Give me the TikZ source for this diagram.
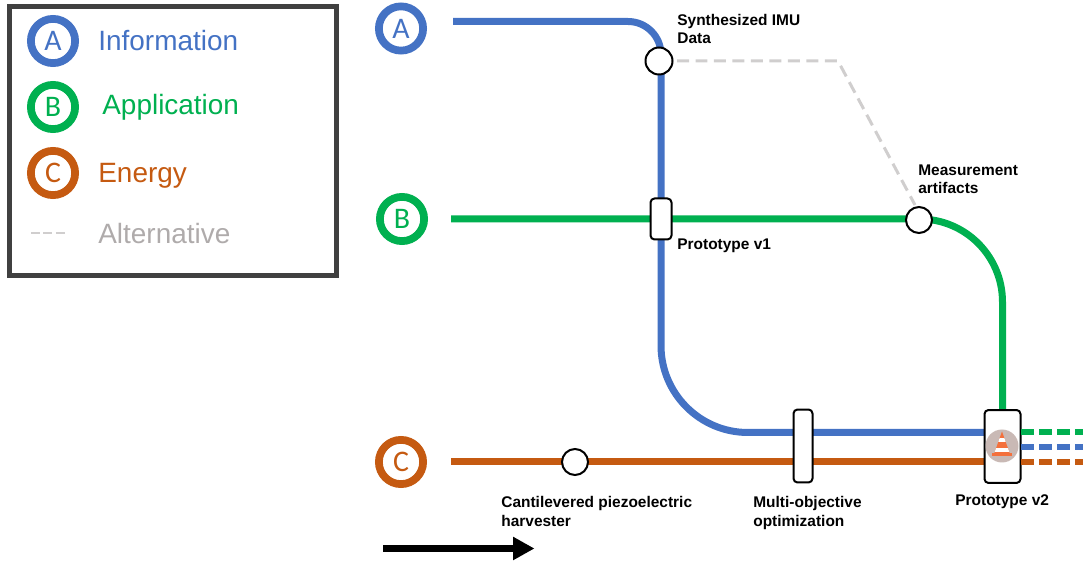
\documentclass[tikz,border=0pt]{standalone}
\usepackage{fontspec}
\usepackage{xcolor}
\usetikzlibrary{arrows.meta,backgrounds}
\setmainfont{Liberation Sans}
\newfontfamily\letterfont{Carlito}
\definecolor{infoblue}{HTML}{4472C4}
\definecolor{appgreen}{HTML}{00B050}
\definecolor{energybrown}{HTML}{C55A11}
\definecolor{altgray}{HTML}{D0CECE}
\definecolor{alttext}{HTML}{AFABAB}
\definecolor{conecolor}{HTML}{F4703C}
\definecolor{conedisc}{HTML}{C9B9B5}
\tikzset{
    badge/.style={circle,draw=#1,text=#1,line width=0.155cm,minimum size=0.885cm,inner sep=0,font=\letterfont\fontsize{17}{20}\selectfont},
    legendtext/.style={anchor=west,inner sep=0,text=#1,font=\fontsize{15.9}{19}\selectfont},
    stoplabel/.style={anchor=west,align=left,inner sep=0,font=\bfseries\fontsize{8.8}{10.4}\selectfont},
    stopround/.style={circle,draw=black,fill=white,line width=0.04cm,minimum size=#1,inner sep=0},
    stopbox/.style={rectangle,rounded corners=0.08cm,draw=black,fill=white,line width=0.04cm,inner sep=0},
    metroline/.style={draw=#1,line width=0.14cm},
    dashline/.style={draw=#1,line width=0.11cm,dash pattern=on 0.26cm off 0.1cm},
    altline/.style={draw=altgray,line width=0.06cm,dash pattern=on 0.24cm off 0.13cm}
}

\begin{document}
\begin{tikzpicture}[x=0.02cm,y=-0.02cm]
    \useasboundingbox (0,0) rectangle (1083,563);

    % legend
    \node[draw=black!75,line width=0.1cm,minimum width=6.53cm,minimum height=5.38cm,inner sep=0] (legendframe) at (173,141) {};
    \node[badge=infoblue] (legendA) at (53,41) {A};
    \node[badge=appgreen] (legendB) at (53,107) {B};
    \node[badge=energybrown] (legendC) at (53,173) {C};
    \node[legendtext=infoblue] (legendinfo) at (98,41) {Information};
    \node[legendtext=appgreen] (legendapp) at (102,107) {Application};
    \node[legendtext=energybrown] (legendenergy) at (98,176) {Energy};
    \node[legendtext=alttext] (legendalt) at (98,234) {Alternative};
    \coordinate (altleft) at (31,233);
    \coordinate (altright) at (66,233);
    \draw[draw=altgray,line width=0.05cm,dash pattern=on 0.18cm off 0.07cm] (altleft) -- (altright);

    % line badges
    \node[badge=infoblue] (badgeA) at (401,28.5) {A};
    \node[badge=appgreen] (badgeB) at (402,219) {B};
    \node[badge=energybrown] (badgeC) at (401,462) {C};

    % stops
    \node[stopround=0.54cm] (synth) at (659,61) {};
    \node[stopround=0.52cm] (artifacts) at (919,220) {};
    \node[stopround=0.52cm] (harvester) at (575,462) {};
    \node[stopbox,minimum width=0.42cm,minimum height=0.82cm] (protoA) at (661,219) {};
    \node[stopbox,minimum width=0.38cm,minimum height=1.46cm] (optim) at (803,446) {};
    \node[stopbox,minimum width=0.72cm,minimum height=1.46cm] (protoB) at (1002.5,446.5) {};

    % cone icon
    \fill[conedisc] (1002,446) circle (0.33cm);
    \begin{scope}
        \clip (1002,431.5) -- (994,454) -- (1010,454) -- cycle;
        \fill[conecolor] (990,430) rectangle (1014,455);
        \fill[white] (990,438.5) rectangle (1014,442.5);
        \fill[white] (990,448) rectangle (1014,452.5);
    \end{scope}
    \fill[conecolor] (991.5,453) rectangle (1011.5,456);

    \coordinate (startA) at (453,21.5);
    \coordinate (startB) at (451,219);
    \coordinate (startC) at (451,462);
    \coordinate (endA) at (985,432.5);
    \coordinate (endC) at (985,462);
    \coordinate (altstart) at (677,61);
    \coordinate (altbend) at (838,61);
    \coordinate (altend) at (915,205);
    \coordinate (dashA) at (1021,447);
    \coordinate (dashB) at (1021,432);
    \coordinate (dashC) at (1021,462);
    \coordinate (dashAend) at (1083,447);
    \coordinate (dashBend) at (1083,432);
    \coordinate (dashCend) at (1083,462);

    % lines
    \begin{scope}[on background layer]
        \draw[metroline=infoblue,rounded corners=0.66cm] (startA) -| (protoA.center);
        \draw[metroline=infoblue,rounded corners=1.74cm] (protoA.center) |- (endA);
        \draw[metroline=appgreen,rounded corners=1.66cm] (startB) -| (protoB.north);
        \draw[metroline=energybrown] (startC) -- (endC);
        \draw[altline] (altstart) -- (altbend) -- (altend);
    \end{scope}
    \draw[dashline=appgreen] (dashB) -- (dashBend);
    \draw[dashline=infoblue] (dashA) -- (dashAend);
    \draw[dashline=energybrown] (dashC) -- (dashCend);

    % labels
    \node[stoplabel] (synthlabel) at (677,29) {Synthesized IMU\\Data};
    \node[stoplabel] (artifactslabel) at (918,179) {Measurement\\artifacts};
    \node[stoplabel] (protoAlabel) at (677,246) {Prototype v1};
    \node[stoplabel] (harvesterlabel) at (501,511.5) {Cantilevered piezoelectric\\harvester};
    \node[stoplabel] (optimlabel) at (753,513) {Multi-objective\\optimization};
    \node[stoplabel] (protoBlabel) at (955,502) {Prototype v2};

    % time arrow
    \coordinate (arrowstart) at (383,548.5);
    \coordinate (arrowend) at (534.5,548.5);
    \draw[line width=0.145cm,-{Triangle[length=0.43cm,width=0.44cm]}] (arrowstart) -- (arrowend);
\end{tikzpicture}
\end{document}
